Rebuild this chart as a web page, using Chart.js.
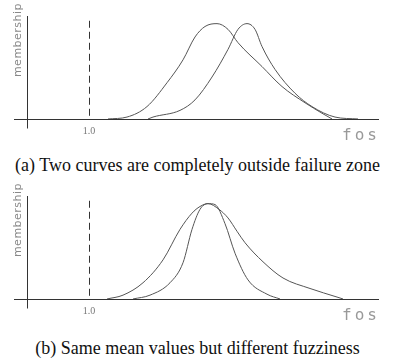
<!DOCTYPE html>
<html>
<head>
<meta charset="utf-8">
<script src="https://cdn.jsdelivr.net/npm/chart.js@4/dist/chart.umd.min.js"></script>
<style>
  body { margin: 0; background: #fff; width: 395px; height: 359px; position: relative; overflow: hidden; }
  .panel { position: absolute; left: 0; width: 395px; height: 140px; }
  .caption { position: absolute; left: 0; width: 395px; text-align: center; font-family: "Liberation Serif", serif; font-size: 18px; color: #111; white-space: nowrap; }
</style>
</head>
<body>
<div class="panel" style="top:0"><canvas id="chartA"></canvas></div>
<div class="caption" style="top:155px">(a) Two curves are completely outside failure zone</div>
<div class="panel" style="top:180px"><canvas id="chartB"></canvas></div>
<div class="caption" style="top:338px">(b) Same mean values but different fuzziness</div>

<script>
// panel (a): two curves, both right of fos = 1.0
const fosA1 = [1.19, 1.38, 1.58, 1.78, 1.94, 2.06, 2.16, 2.28, 2.39, 2.49, 2.73, 2.93, 3.16, 3.33, 3.43];
const memA1 = [0, 0.02, 0.13, 0.38, 0.62, 0.86, 0.97, 1.0, 0.94, 0.80, 0.55, 0.34, 0.17, 0.06, 0];
const fosA2 = [1.59, 1.64, 1.91, 2.06, 2.23, 2.39, 2.49, 2.58, 2.66, 2.73, 2.86, 3.06, 3.23, 3.46, 3.69];
const memA2 = [0, 0.02, 0.09, 0.20, 0.44, 0.73, 0.94, 1.0, 0.94, 0.76, 0.52, 0.27, 0.13, 0.02, 0];

// panel (b): same mean, different spread
const fosB1 = [1.44, 1.61, 1.81, 1.94, 2.03, 2.11, 2.19, 2.26, 2.36, 2.46, 2.59, 2.78, 2.91];
const memB1 = [0, 0.04, 0.17, 0.38, 0.73, 0.94, 1.0, 0.99, 0.79, 0.48, 0.20, 0.05, 0];
const fosB2 = [1.18, 1.34, 1.54, 1.74, 1.91, 2.03, 2.11, 2.19, 2.30, 2.39, 2.48, 2.56, 2.74, 2.94, 3.21, 3.48, 3.54];
const memB2 = [0, 0.04, 0.17, 0.41, 0.73, 0.90, 0.97, 1.0, 0.94, 0.85, 0.71, 0.59, 0.39, 0.22, 0.11, 0.02, 0];

const failureFos = 1.0;
const yAxisFos = 0.38;
const tickLabel = '1.0';
const xTitle = 'fos';
const yTitle = 'membership';

function toPoints(xs, ys) {
  return xs.map((x, i) => ({ x: x, y: ys[i] }));
}

// axes are drawn by hand so they cross like in the plot
const axesPlugin = {
  id: 'axesPlugin',
  afterDraw: (chart) => {
    const { ctx, chartArea: { left, right, top, bottom }, scales: { x, y } } = chart;
    const y0 = y.getPixelForValue(0);
    const xAx = x.getPixelForValue(yAxisFos);
    const xFail = x.getPixelForValue(failureFos);

    ctx.save();
    ctx.strokeStyle = '#333';
    ctx.lineWidth = 1;
    ctx.beginPath();
    ctx.moveTo(left, Math.round(y0) + 0.5);
    ctx.lineTo(right, Math.round(y0) + 0.5);
    ctx.moveTo(Math.round(xAx) + 0.5, top);
    ctx.lineTo(Math.round(xAx) + 0.5, bottom);
    ctx.stroke();

    // failure zone boundary
    ctx.setLineDash([7, 4]);
    ctx.beginPath();
    ctx.moveTo(Math.round(xFail) + 0.5, y.getPixelForValue(1.03));
    ctx.lineTo(Math.round(xFail) + 0.5, y0);
    ctx.stroke();
    ctx.setLineDash([]);

    ctx.fillStyle = '#777';
    ctx.textAlign = 'center';
    ctx.textBaseline = 'middle';
    ctx.font = '10px "Liberation Serif"';
    ctx.fillText(tickLabel, xFail, y0 + 12);

    ctx.font = '16px "DejaVu Sans Mono"';
    ctx.fillStyle = '#999';
    ctx.letterSpacing = '3px';
    ctx.fillText(xTitle, right - 18, y0 + 17);
    ctx.letterSpacing = '0px';

    ctx.save();
    ctx.translate(xAx - 9, top + 24);
    ctx.rotate(-Math.PI / 2);
    ctx.font = '11px "DejaVu Sans"';
    ctx.fillStyle = '#888';
    ctx.letterSpacing = '0.5px';
    ctx.fillText(yTitle, 0, 0);
    ctx.restore();
    ctx.restore();
  }
};

function makeChart(id, s1, s2) {
  const line = {
    borderColor: '#555',
    borderWidth: 1,
    pointRadius: 0,
    fill: false,
    cubicInterpolationMode: 'monotone'
  };
  return new Chart(document.getElementById(id), {
    type: 'line',
    data: {
      datasets: [
        Object.assign({ data: s1 }, line),
        Object.assign({ data: s2 }, line)
      ]
    },
    options: {
      responsive: true,
      maintainAspectRatio: false,
      animation: false,
      layout: { padding: { left: 14, right: 16, top: 16, bottom: 11.5 } },
      plugins: { legend: { display: false }, tooltip: { enabled: false } },
      scales: {
        x: { type: 'linear', display: false, min: 0.25, max: 3.9 },
        y: { display: false, min: -0.1, max: 1.08 }
      }
    },
    plugins: [axesPlugin]
  });
}

makeChart('chartA', toPoints(fosA1, memA1), toPoints(fosA2, memA2));
makeChart('chartB', toPoints(fosB1, memB1), toPoints(fosB2, memB2));
</script>
</body>
</html>
